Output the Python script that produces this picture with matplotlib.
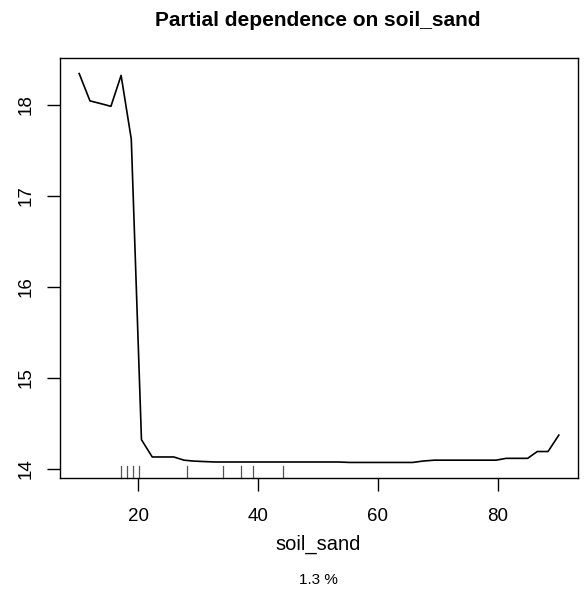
import matplotlib
matplotlib.use("Agg")
import matplotlib.pyplot as plt

# partial dependence curve (vertices)
sand = [10.1, 11.9, 13.7, 15.4, 17.1, 18.8, 20.5, 22.3, 25.9, 27.6, 29.2, 30.9,
        32.8, 53.3, 55.3, 65.8, 67.5, 69.4, 79.7, 81.4, 85.0, 86.6, 88.4, 90.2]
pdep = [18.34, 18.04, 18.01, 17.98, 18.32, 17.62, 14.32, 14.13, 14.13, 14.095, 14.085, 14.08,
        14.075, 14.075, 14.07, 14.07, 14.085, 14.095, 14.095, 14.115, 14.115, 14.19, 14.19, 14.37]

# deciles of soil_sand shown as rug
rug = [17.1, 18.1, 19.1, 20.1, 28.1, 34.1, 37.1, 39.1, 44.1]

xticks = [20, 40, 60, 80]
yticks = [14, 15, 16, 17, 18]

plt.rcParams['font.family'] = ['Liberation Sans', 'DejaVu Sans']

W, H = 584, 595
fig = plt.figure(figsize=(W / 100, H / 100), dpi=100)
ax = fig.add_axes([60 / W, 1 - 478 / H, 518 / W, 420 / H])

ax.plot(sand, pdep, color='black', lw=1.2)

# rug along the bottom
for r in rug:
    ax.plot([r, r], [0, 0.028], color='#555555', lw=0.9,
            transform=ax.get_xaxis_transform(), clip_on=False)

xr = max(sand) - min(sand)
yr = max(pdep) - min(pdep)
ax.set_xlim(min(sand) - 0.04 * xr, max(sand) + 0.04 * xr)
ax.set_ylim(min(pdep) - 0.04 * yr, max(pdep) + 0.04 * yr)

ax.set_xticks(xticks)
ax.set_yticks(yticks)
ax.set_yticklabels([str(t) for t in yticks], rotation=90, va='center')
ax.tick_params(direction='out', length=9.5, width=1, labelsize=13.5)
ax.tick_params(axis='x', pad=12)
ax.tick_params(axis='y', pad=9)
for s in ax.spines.values():
    s.set_linewidth(1)

fig.text(318 / W, 1 - 20 / H, "Partial dependence on soil_sand", ha='center', va='center',
         fontsize=15, fontweight='bold')
fig.text(318 / W, 1 - 544 / H, "soil_sand", ha='center', va='center', fontsize=14.5)
fig.text(318 / W, 1 - 580 / H, "1.3 %", ha='center', va='center', fontsize=11)

fig.savefig("out.png", dpi=100)
